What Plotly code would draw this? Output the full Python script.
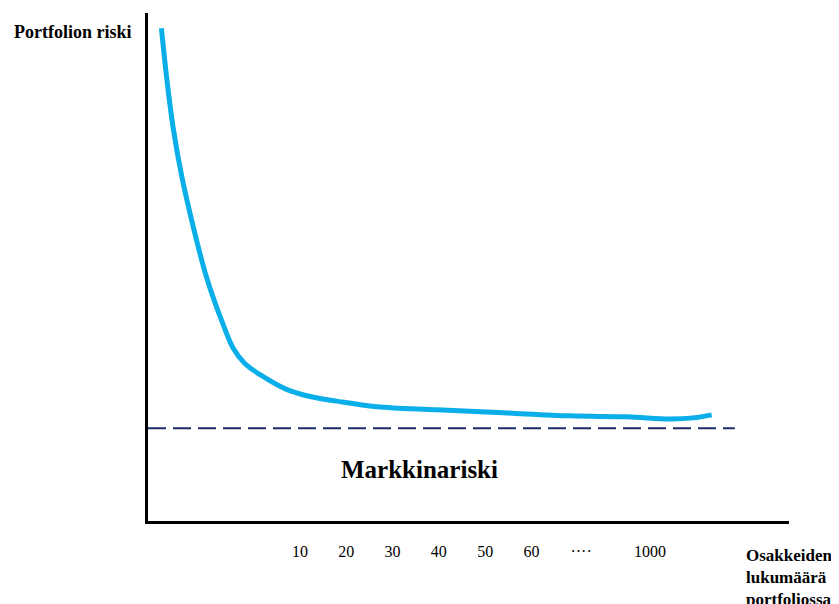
import plotly.graph_objects as go

# Curve: position along x axis (tick-position units) and risk level (0-100 scale)
curve_x = [-19.9, -18.8, -17.4, -15.5, -13.0, -10.2, -6.5, -4.4, -1.9, 2.1, 7.1,
           12.2, 17.9, 26.6, 39.5, 53.9, 68.3, 80.6, 89.9, 94.9, 98.9]
curve_y = [97.0, 87.5, 77.6, 67.8, 57.8, 48.1, 38.5, 34.0, 31.0, 28.4, 25.9,
           24.5, 23.6, 22.5, 21.9, 21.3, 20.7, 20.5, 20.1, 20.3, 20.9]

market_risk_x = [-22.8, 103.9]
market_risk_y = [18.25, 18.25]

tick_positions = [10, 20, 30, 40, 50, 60, 70.7, 85.6]
tick_labels = ["10", "20", "30", "40", "50", "60", "····", "1000"]

X_RANGE = [-22.8, 115.6]
Y_RANGE = [0, 100]

SERIF = "Liberation Serif, Times New Roman, serif"

fig = go.Figure()
fig.add_trace(go.Scatter(
    x=market_risk_x, y=market_risk_y, mode="lines",
    line=dict(color="#1b2b6b", width=2, dash="18px,7px"),
    hoverinfo="skip", showlegend=False))
fig.add_trace(go.Scatter(
    x=curve_x, y=curve_y, mode="lines",
    line=dict(color="#0aaee8", width=5, shape="spline", smoothing=1.0),
    hoverinfo="skip", showlegend=False))

W, H = 839, 604
OFF = 8  # page body margin offset
# target screen positions of plot area
SL, SR, ST, SB = 148, 789, 13, 521
L = SL - OFF
T = ST - OFF
R = W - (SR - OFF)
B = H - (SB - OFF)
pw, ph = W - L - R, H - T - B

def px(xs):
    return (xs - SL) / pw

def py(ys):
    return (SB - ys) / ph

fig.add_annotation(text="<b>Portfolion riski</b>", xref="paper", yref="paper",
                   x=px(12), y=py(32), xanchor="left", yanchor="middle",
                   showarrow=False, font=dict(family=SERIF, size=18, color="black"))
fig.add_annotation(text="<b>Markkinariski</b>", xref="paper", yref="paper",
                   x=px(419), y=py(469), xanchor="center", yanchor="middle",
                   showarrow=False, font=dict(family=SERIF, size=25, color="black"))
fig.add_annotation(text="<b>Osakkeiden<br>lukumäärä<br>portfoliossa</b>", xref="paper", yref="paper",
                   x=px(744), y=py(544), xanchor="left", yanchor="top", align="left",
                   showarrow=False, font=dict(family=SERIF, size=17, color="black"))

fig.update_layout(
    width=W, height=H,
    margin=dict(l=L, r=R, t=T, b=B),
    paper_bgcolor="white", plot_bgcolor="white",
    xaxis=dict(range=X_RANGE, showgrid=False, zeroline=False,
               showline=True, linecolor="black", linewidth=3,
               tickmode="array", tickvals=tick_positions, ticktext=tick_labels,
               ticks="", ticklabelstandoff=14,
               tickfont=dict(family=SERIF, size=16, color="black")),
    yaxis=dict(range=Y_RANGE, showgrid=False, zeroline=False,
               showline=True, linecolor="black", linewidth=3,
               showticklabels=False, ticks=""),
)

fig.write_html("out.html")
